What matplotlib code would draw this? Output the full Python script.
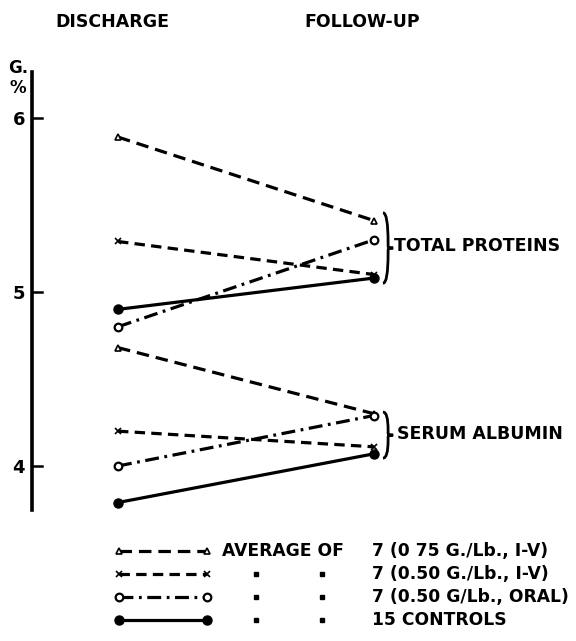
import numpy as np
import matplotlib
matplotlib.use("Agg")
import matplotlib.pyplot as plt
from matplotlib.path import Path
from matplotlib.patches import PathPatch

plt.rcParams['font.family'] = ['DejaVu Sans']
plt.rcParams['font.weight'] = 'bold'
plt.rcParams['lines.scale_dashes'] = False

# data (G. %), order: 0.75 I-V, 0.50 I-V, 0.50 oral, controls
times = [0, 1]
tp_discharge = [5.89, 5.29, 4.80, 4.90]
tp_followup = [5.41, 5.10, 5.30, 5.08]
alb_discharge = [4.68, 4.20, 4.00, 3.79]
alb_followup = [4.30, 4.11, 4.29, 4.07]

headings = ["DISCHARGE", "FOLLOW-UP"]
y_ticks = [4, 5, 6]
legend_text = ["AVERAGE OF", "7 (0 75 G./Lb., I-V)", "7 (0.50 G./Lb., I-V)",
               "7 (0.50 G/Lb., ORAL)", "15 CONTROLS"]

styles = [
    dict(marker='^', ms=4, mfc='white', mew=1.2, dashes=(9, 5)),
    dict(marker='x', ms=4, mew=1.2, dashes=(7.5, 4.5)),
    dict(marker='o', ms=5.5, mfc='white', mew=1.6, dashes=(10, 4, 2, 4)),
    dict(marker='o', ms=6.5, mfc='black', mew=1, dashes=None),
]

W, H = 576, 641
fig = plt.figure(figsize=(W / 100, H / 100), dpi=100)

# main axes: spine at x=32px, from y=72px to y=510px
ax = fig.add_axes([32 / W, 1 - 510 / H, 544 / W, 438 / H])
ax.set_xlim(-0.336, 1.789)
ax.set_ylim(3.747, 6.264)

for pair in [(tp_discharge, tp_followup), (alb_discharge, alb_followup)]:
    for i, st in enumerate(styles):
        ln, = ax.plot(times, [pair[0][i], pair[1][i]], color='black', lw=2.3,
                      marker=st['marker'], ms=st['ms'],
                      mfc=st.get('mfc', 'black'), mec='black', mew=st['mew'])
        if st['dashes']:
            ln.set_dashes(st['dashes'])

for s in ['top', 'right', 'bottom']:
    ax.spines[s].set_visible(False)
ax.spines['left'].set_linewidth(2.6)
ax.set_xticks([])
ax.set_yticks(y_ticks)
ax.set_yticklabels([str(t) for t in y_ticks])
ax.tick_params(axis='y', direction='out', length=0, labelsize=13, pad=5)
for t in y_ticks:
    ax.plot([-0.336, -0.296], [t, t], color='black', lw=1.8, clip_on=False)


def brace(x, y0, y1, w):
    ym = (y0 + y1) / 2
    verts = [(x, y1), (x + w, y1), (x + w, ym + 0.03), (x + w, ym + 0.01),
             (x + w, ym), (x + 2 * w, ym), (x + 2 * w, ym),
             (x + w, ym), (x + w, ym - 0.01), (x + w, ym - 0.03),
             (x + w, y0), (x, y0)]
    codes = [Path.MOVETO, Path.CURVE3, Path.CURVE3, Path.LINETO,
             Path.CURVE3, Path.CURVE3, Path.MOVETO,
             Path.CURVE3, Path.CURVE3, Path.LINETO,
             Path.CURVE3, Path.CURVE3]
    ax.add_patch(PathPatch(Path(verts, codes), fill=False, lw=2.0,
                           clip_on=False))


brace(1.035, min(tp_followup) - 0.03, max(tp_followup) + 0.045, 0.02)
brace(1.035, min(alb_followup) - 0.025, max(alb_followup) + 0.01, 0.02)
ax.text(1.08, np.mean([min(tp_followup), max(tp_followup)]) + 0.02,
        "TOTAL PROTEINS", fontsize=12.5, va='center', ha='left')
ax.text(1.09, np.mean([min(alb_followup), max(alb_followup)]),
        "SERUM ALBUMIN", fontsize=12.5, va='center', ha='left')

# headings and unit
fig.text(112 / W, 1 - 22 / H, headings[0], fontsize=12.5, ha='center', va='center')
fig.text(362 / W, 1 - 22 / H, headings[1], fontsize=12.5, ha='center', va='center')
fig.text(18 / W, 1 - 68 / H, "G.", fontsize=12, ha='center', va='center')
fig.text(18 / W, 1 - 88 / H, "%", fontsize=12, ha='center', va='center')

# legend drawn in pixel coordinates
lg = fig.add_axes([0, 0, 1, 1])
lg.set_xlim(0, W)
lg.set_ylim(H, 0)
lg.axis('off')
rows = [551, 574, 597, 620]
for i, (st, y) in enumerate(zip(styles, rows)):
    ln, = lg.plot([119, 207], [y, y], color='black', lw=2.3,
                  marker=st['marker'], ms=st['ms'],
                  mfc=st.get('mfc', 'black'), mec='black', mew=st['mew'])
    if st['dashes']:
        ln.set_dashes(st['dashes'])
    if i == 0:
        lg.text(222, y, legend_text[0], fontsize=12.3, va='center', ha='left')
    else:
        lg.plot([256, 322], [y, y], ls='none', marker='s', ms=3.5, color='black')
    lg.text(372, y, legend_text[i + 1], fontsize=12.3, va='center', ha='left')

fig.savefig("out.png", dpi=100)
